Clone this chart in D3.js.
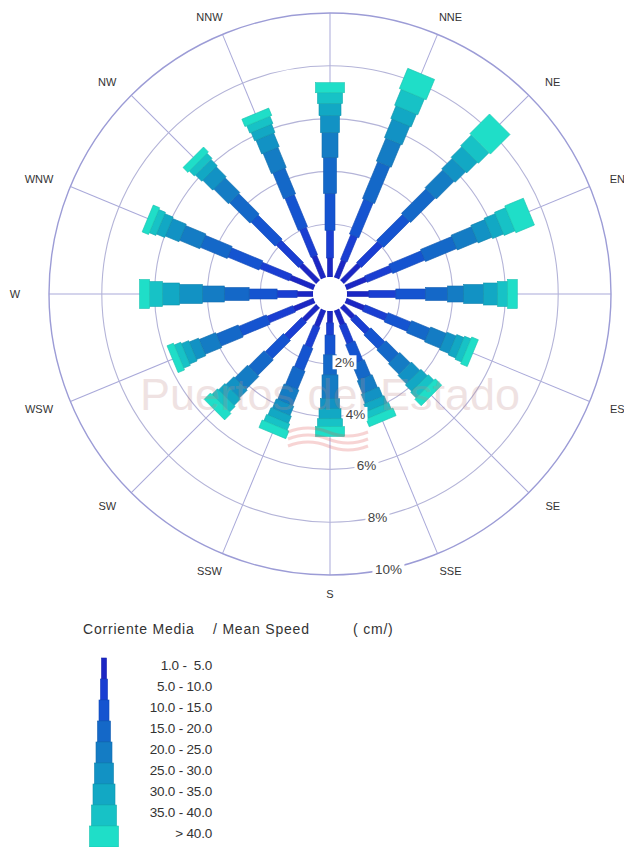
<!DOCTYPE html>
<html>
<head>
<meta charset="utf-8">
<script src="https://cdn.jsdelivr.net/npm/d3@7"></script>
<style>
  body { margin: 0; background: #fff; }
  svg { display: block; }
  text { font-family: "Liberation Sans", Arial, Helvetica, sans-serif; }
</style>
</head>
<body>
<svg id="chart" width="624" height="847"></svg>
<script>
// Current rose: frequency (%) per direction and mean-speed class (cm/s)
const directions = ["N", "NNE", "NE", "ENE", "E", "ESE", "SE", "SSE",
                    "S", "SSW", "SW", "WSW", "W", "WNW", "NW", "NNW"];
const speedClasses = ["1.0 -  5.0", "5.0 - 10.0", "10.0 - 15.0", "15.0 - 20.0",
                      "20.0 - 25.0", "25.0 - 30.0", "30.0 - 35.0", "35.0 - 40.0", "> 40.0"];
const ringTicks = [2, 4, 6, 8, 10];

// one array per speed class, values in the direction order above
const s1_5   = [0.72, 0.72, 0.91, 0.83, 0.83, 0.75, 0.60, 0.60, 0.45, 0.68, 0.75, 0.83, 0.60, 0.98, 0.91, 0.91];
const s5_10  = [1.05, 1.02, 1.13, 1.02, 1.02, 0.91, 0.76, 0.76, 0.46, 0.83, 0.91, 1.06, 0.76, 1.21, 1.20, 1.13];
const s10_15 = [1.40, 1.43, 1.39, 1.32, 1.13, 0.94, 0.75, 0.79, 0.75, 0.91, 0.98, 1.13, 1.06, 1.28, 1.29, 1.32];
const s15_20 = [1.36, 1.51, 1.32, 1.28, 0.83, 0.76, 0.68, 0.64, 0.76, 0.75, 0.83, 0.90, 0.94, 1.10, 1.09, 1.06];
const s20_25 = [0.94, 0.94, 0.95, 0.83, 0.61, 0.64, 0.57, 0.53, 0.90, 0.64, 0.68, 0.68, 0.83, 0.83, 0.79, 0.83];
const s25_30 = [0.64, 0.76, 0.56, 0.57, 0.75, 0.38, 0.45, 0.38, 0.38, 0.38, 0.42, 0.38, 0.87, 0.56, 0.53, 0.56];
const s30_35 = [0.46, 0.52, 0.57, 0.45, 0.53, 0.30, 0.34, 0.30, 0.38, 0.30, 0.34, 0.30, 0.64, 0.34, 0.34, 0.34];
const s35_40 = [0.41, 0.65, 0.57, 0.45, 0.38, 0.26, 0.30, 0.26, 0.30, 0.26, 0.30, 0.27, 0.49, 0.27, 0.27, 0.30];
const s40up  = [0.38, 0.83, 1.05, 0.76, 0.37, 0.27, 0.34, 0.31, 0.37, 0.31, 0.34, 0.26, 0.38, 0.26, 0.26, 0.30];
const classSeries = [s1_5, s5_10, s10_15, s15_20, s20_25, s25_30, s30_35, s35_40, s40up];

const classColors = ["#1b26c4", "#1a3ed2", "#1554d0", "#1468c8", "#147cc4",
                     "#1292c4", "#12a8c4", "#17c2c6", "#1fdec8"];
const classWidths = [5, 7, 10, 13, 16, 19, 22, 25, 29];

const W = 624, H = 847;
const svg = d3.select("#chart");
const cx = 330, cy = 294;

const r = d3.scaleLinear().domain([0, 10]).range([17, 281]);
const angle = d3.scalePoint().domain(directions).range([0, 360 - 360 / directions.length]);
const barWidth = d3.scaleOrdinal().domain(speedClasses).range(classWidths);
const color = d3.scaleOrdinal().domain(speedClasses).range(classColors);

// stacked table: one row per direction
const rows = directions.map((dir, i) => {
  const row = { dir };
  speedClasses.forEach((c, k) => { row[c] = classSeries[k][i]; });
  return row;
});
const stacked = d3.stack().keys(speedClasses)(rows);

const gridColor = "#a9a9d9";
const rose = svg.append("g").attr("transform", `translate(${cx},${cy})`);

// spokes
rose.append("g").selectAll("line").data(directions).join("line")
  .attr("x1", 0).attr("y1", -r(0)).attr("x2", 0).attr("y2", -r(10))
  .attr("transform", d => `rotate(${angle(d)})`)
  .attr("stroke", gridColor).attr("stroke-width", 1);

// rings
rose.append("g").selectAll("circle").data(ringTicks).join("circle")
  .attr("r", d => r(d))
  .attr("fill", "none")
  .attr("stroke", d => d === 10 ? "#9c9cd6" : "#b4b4d8")
  .attr("stroke-width", d => d === 10 ? 1.4 : 1.1);

// petals: each speed class is a rectangle of its own width along the direction
const petals = rose.append("g");
stacked.forEach(layer => {
  const cls = layer.key;
  petals.append("g").selectAll("rect").data(layer).join("rect")
    .attr("transform", d => `rotate(${angle(d.data.dir)})`)
    .attr("x", -barWidth(cls) / 2)
    .attr("width", barWidth(cls))
    .attr("y", d => -r(d[1]))
    .attr("height", d => r(d[1]) - r(d[0]))
    .attr("fill", color(cls))
    .attr("stroke", d3.color(color(cls)).darker(0.35))
    .attr("stroke-width", 0.6);
});

// central hole
rose.append("circle").attr("r", r(0)).attr("fill", "#fff");

// ring labels
const labelAngle = 168 * Math.PI / 180;
const ringLabels = rose.append("g").selectAll("g").data(ringTicks).join("g")
  .attr("transform", d => `translate(${Math.sin(labelAngle) * r(d)},${-Math.cos(labelAngle) * r(d)})`);
ringLabels.append("rect")
  .attr("x", d => d === 10 ? -16 : -12).attr("y", -7)
  .attr("width", d => d === 10 ? 32 : 24).attr("height", 14)
  .attr("fill", "#fff");
ringLabels.append("text")
  .attr("text-anchor", "middle").attr("dy", "0.36em")
  .attr("font-size", 13.5).attr("fill", "#444")
  .text(d => d + "%");

// compass labels on an ellipse around the rose; those landing wholly outside the page are skipped
const lx = 315, ly = 300;
const compass = directions.map(d => ({
  d,
  x: Math.sin(angle(d) * Math.PI / 180) * lx,
  y: -Math.cos(angle(d) * Math.PI / 180) * ly
})).filter(p => cx + p.x - 6 < W);
rose.append("g").selectAll("text").data(compass).join("text")
  .attr("x", p => p.x)
  .attr("y", p => p.y)
  .attr("dy", "0.36em")
  .attr("text-anchor", "middle")
  .attr("font-size", 11).attr("fill", "#333")
  .text(p => p.d);

// watermark
const mark = svg.append("g").attr("opacity", 0.24).attr("pointer-events", "none");
mark.append("text")
  .attr("x", 330).attr("y", 410)
  .attr("text-anchor", "middle")
  .attr("font-size", 45)
  .attr("fill", "#c08a8a")
  .text("Puertos del Estado");
[0, 7, 14].forEach(off => {
  mark.append("path")
    .attr("d", `M ${288} ${432 + off} q 20 -8 40 0 t 40 0`)
    .attr("fill", "none").attr("stroke", "#e05050").attr("stroke-width", 3);
});

// legend
const legend = svg.append("g").attr("fill", "#333");
const titleFont = { size: 14, spacing: 0.8 };
[["Corriente Media", 83], ["/ Mean Speed", 213], ["( cm/)", 353]].forEach(([t, x]) => {
  legend.append("text").attr("x", x).attr("y", 634)
    .attr("font-size", titleFont.size).attr("letter-spacing", titleFont.spacing)
    .attr("xml:space", "preserve").text(t);
});

const legY = d3.scaleBand().domain(speedClasses).range([658, 847]);
legend.append("g").selectAll("rect").data(speedClasses).join("rect")
  .attr("x", d => 104 - barWidth(d) / 2)
  .attr("width", d => barWidth(d))
  .attr("y", d => legY(d))
  .attr("height", legY.bandwidth())
  .attr("fill", d => color(d))
  .attr("stroke", d => d3.color(color(d)).darker(0.35))
  .attr("stroke-width", 0.6);
legend.append("g").selectAll("text").data(speedClasses).join("text")
  .attr("x", 212)
  .attr("y", d => legY(d) + legY.bandwidth() / 2 - 3)
  .attr("dy", "0.36em")
  .attr("text-anchor", "end")
  .attr("font-size", 13.5).attr("letter-spacing", -0.2)
  .attr("xml:space", "preserve")
  .text(d => d);
</script>
</body>
</html>
